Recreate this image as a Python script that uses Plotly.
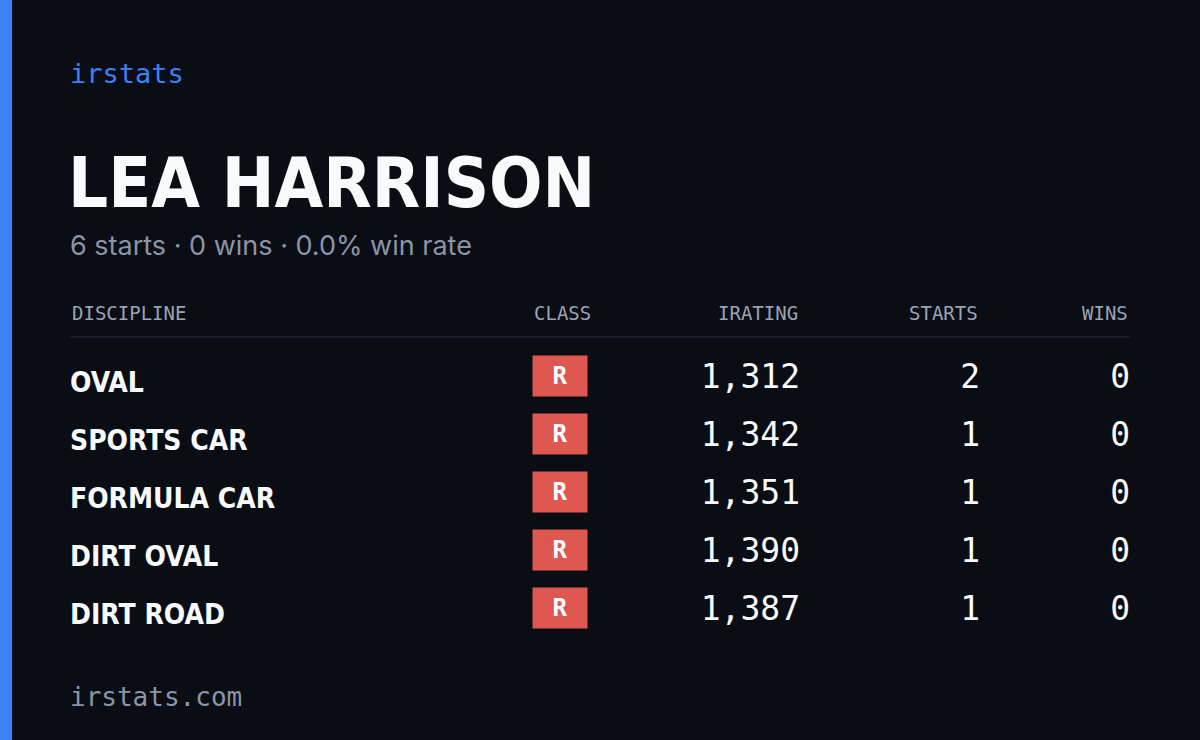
import plotly.graph_objects as go

disciplines = ["OVAL", "SPORTS CAR", "FORMULA CAR", "DIRT OVAL", "DIRT ROAD"]
classes = ["R", "R", "R", "R", "R"]
iratings = [1312, 1342, 1351, 1390, 1387]
starts = [2, 1, 1, 1, 1]
wins = [0, 0, 0, 0, 0]
headers = ["DISCIPLINE", "CLASS", "IRATING", "STARTS", "WINS"]

name = "LEA HARRISON"
total_starts = sum(starts)
total_wins = sum(wins)
win_rate = 100.0 * total_wins / total_starts

BG = "#0a0d14"
BLUE = "#3b82f6"
GRAY = "#8b95a8"
WHITE = "#f8fafc"
BADGE = "#de5750"
MONO = "DejaVu Sans Mono"
COND = "DejaVu Sans Condensed, Liberation Sans Narrow, DejaVu Sans"

row_y = [380 + 58 * i for i in range(len(disciplines))]

fig = go.Figure()

fig.add_trace(go.Scatter(
    x=[70] * len(disciplines), y=[y + 5 for y in row_y], mode="text",
    text=[f"<b>{d}</b>" for d in disciplines], textposition="middle right",
    textfont=dict(family=COND, size=28, color=WHITE), hoverinfo="skip"))

for col_x, vals in [(800, [f"{v:,}" for v in iratings]),
                    (980, [str(v) for v in starts]),
                    (1130, [str(v) for v in wins])]:
    fig.add_trace(go.Scatter(
        x=[col_x] * len(vals), y=row_y, mode="text", text=vals,
        textposition="middle left",
        textfont=dict(family=MONO, size=33, color=WHITE), hoverinfo="skip"))

annotations = []
for c, y in zip(classes, row_y):
    annotations.append(dict(x=560, y=y - 4, text=f"<b>{c}</b>", showarrow=False,
                            bgcolor=BADGE, width=52, height=38,
                            font=dict(family=MONO, size=24, color="white")))

header_x = [70, 593, 800, 980, 1130]
header_anchor = ["left", "right", "right", "right", "right"]
for h, x, a in zip(headers, header_x, header_anchor):
    annotations.append(dict(x=x, y=313, text=h, xanchor=a, showarrow=False,
                            font=dict(family=MONO, size=19, color="#9aa3b5")))

annotations += [
    dict(x=68, y=73, text="irstats", xanchor="left", showarrow=False,
         font=dict(family=MONO, size=27, color=BLUE)),
    dict(x=66, y=183, text=f"<b>{name}</b>", xanchor="left", showarrow=False,
         font=dict(family=COND, size=70, color=WHITE)),
    dict(x=68, y=245, xanchor="left", showarrow=False,
         text=f"{total_starts} starts · {total_wins} wins · {win_rate:.1f}% win rate",
         font=dict(family="Inter, Noto Sans", size=27, color=GRAY)),
    dict(x=68, y=697, text="irstats.com", xanchor="left", showarrow=False,
         font=dict(family=MONO, size=26, color=GRAY)),
]

shapes = [
    dict(type="rect", x0=0, x1=12, y0=0, y1=740, fillcolor=BLUE, line_width=0, layer="below"),
    dict(type="line", x0=70, x1=1130, y0=337, y1=337, line=dict(color="#1e2330", width=1.5)),
]

fig.update_layout(
    width=1200, height=740, margin=dict(l=0, r=0, t=0, b=0),
    paper_bgcolor=BG, plot_bgcolor=BG, showlegend=False,
    xaxis=dict(range=[0, 1200], visible=False, fixedrange=True),
    yaxis=dict(range=[740, 0], visible=False, fixedrange=True),
    annotations=annotations, shapes=shapes,
)

fig.write_html("out.html", config={"displayModeBar": False},
               post_script="document.body.style.margin='0';document.body.style.background='#0a0d14';")
